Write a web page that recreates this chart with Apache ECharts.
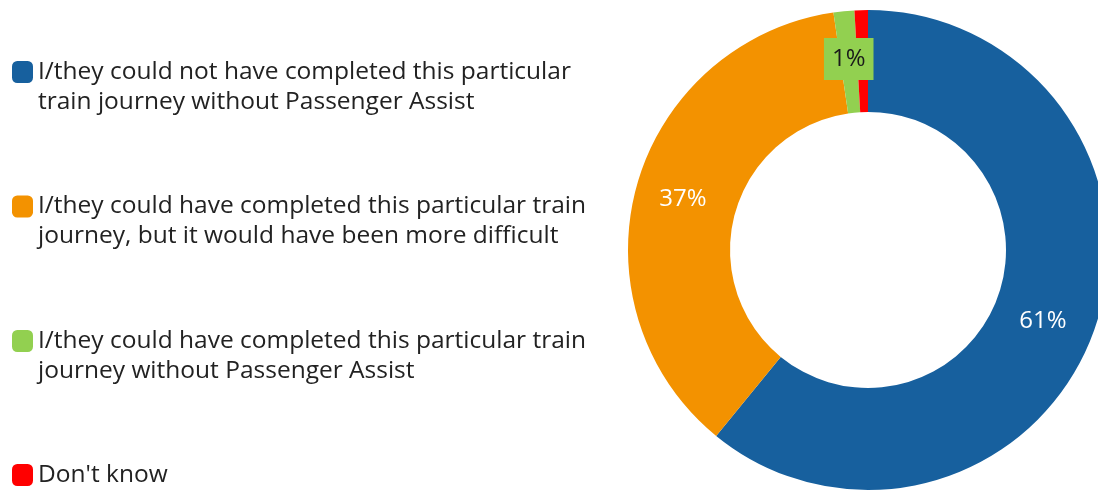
<!DOCTYPE html>
<html><head><meta charset="utf-8">
<script src="https://cdn.jsdelivr.net/npm/echarts@6/dist/echarts.min.js"></script>
<style>html,body{margin:0;padding:0;background:#fff;} #c{width:1098px;height:490px;}</style>
</head><body><div id="c"></div>
<script>
const categories = [
  "I/they could not have completed this particular\ntrain journey without Passenger Assist",
  "I/they could have completed this particular train\njourney, but it would have been more difficult",
  "I/they could have completed this particular train\njourney without Passenger Assist",
  "Don't know"
];
const shares = [60.9, 36.8, 1.4, 0.9];
const showLabel = [true, true, true, false];

const colours = ['#17609E', '#F39200', '#92D050', '#FF0000'];
const FONT = '"Open Sans", "DejaVu Sans", sans-serif';
const LH = 30;
const legendCentres = [72, 206.5, 341, 475];

const pieData = categories.map((name, i) => {
  const item = { name: name, value: shares[i], itemStyle: { color: colours[i] } };
  if (!showLabel[i]) item.label = { show: false };
  if (i === 0) item.label = { offset: [-6, 7] };
  if (i === 2) item.label = { color: '#1a1a1a', backgroundColor: colours[2], padding: [10, 8, 8, 8] };
  return item;
});

const legends = categories.map((name, i) => {
  const multi = name.indexOf('\n') >= 0;
  return {
    orient: 'vertical',
    left: 12,
    top: legendCentres[i] - (multi ? 1.5 * LH : 15),
    padding: 0,
    itemWidth: 21,
    itemHeight: 22,
    icon: 'roundRect',
    selectedMode: false,
    data: [name],
    formatter: n => multi ? '{h|.}\n' + n : n,
    textStyle: {
      fontFamily: FONT,
      fontSize: 24.5,
      lineHeight: LH,
      color: '#222222',
      rich: { h: { color: 'transparent', fontSize: 24.5, lineHeight: LH } }
    }
  };
});

const chart = echarts.init(document.getElementById('c'), null, { renderer: 'canvas' });
chart.setOption({
  animation: false,
  backgroundColor: '#ffffff',
  legend: legends,
  series: [{
    type: 'pie',
    center: [868, 250],
    radius: [138, 240],
    startAngle: 90,
    clockwise: true,
    avoidLabelOverlap: false,
    data: pieData,
    itemStyle: { borderWidth: 0 },
    label: {
      show: true,
      position: 'inside',
      fontFamily: FONT,
      fontSize: 24,
      color: '#ffffff',
      formatter: p => Math.round(p.percent) + '%'
    },
    labelLine: { show: false },
    emphasis: { disabled: true }
  }]
});
</script>
</body></html>
